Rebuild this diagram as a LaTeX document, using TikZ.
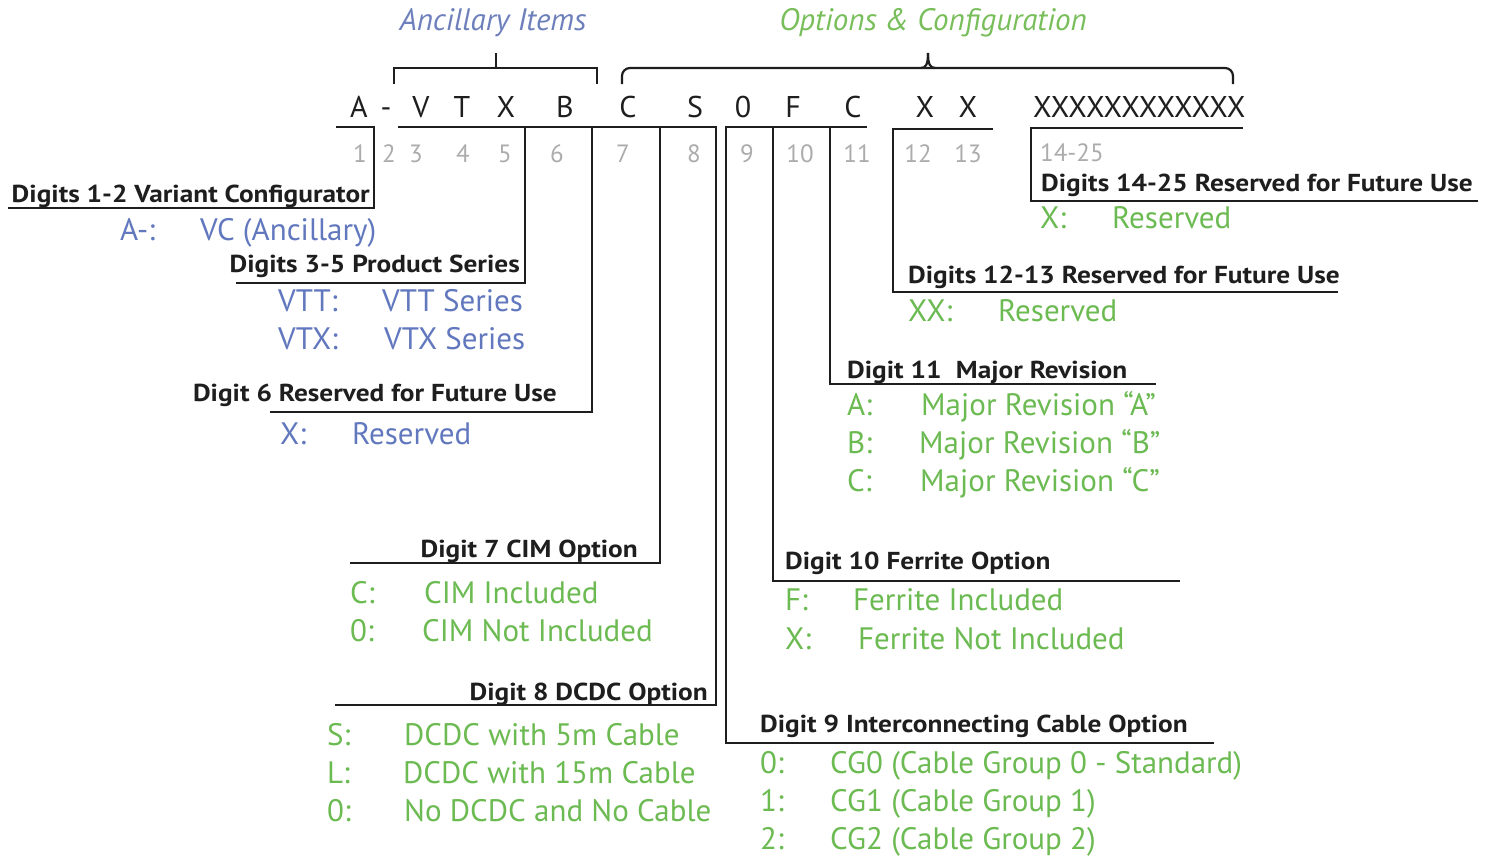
\documentclass[tikz,border=0pt]{standalone}
\usepackage{fontspec}
\setmainfont{PT Sans}
\newfontfamily\hdrfont{PT Sans}[FakeStretch=1.115]
\definecolor{blueT}{RGB}{98,120,190}
\definecolor{greenT}{RGB}{108,186,82}
\definecolor{blueH}{RGB}{110,128,188}
\definecolor{greenH}{RGB}{120,190,90}
\definecolor{grayN}{RGB}{172,172,172}
\definecolor{inkC}{RGB}{30,30,30}
\tikzset{
  lead/.style={line width=2.8pt, draw=inkC, line join=miter},
  brk/.style={line width=2.2pt, draw=inkC},
  code/.style={font=\fontsize{30}{34}\selectfont, anchor=base, inner sep=0pt, text=inkC},
  num/.style={font=\fontsize{25}{28}\selectfont, anchor=base, inner sep=0pt, text=grayN},
  hdr/.style={font=\hdrfont\bfseries\fontsize{24.5}{28}\selectfont, inner sep=0pt, text=inkC},
  ttl/.style={font=\itshape\fontsize{31}{34}\selectfont, anchor=base, inner sep=0pt},
  optb/.style={font=\fontsize{31}{34}\selectfont, anchor=base west, inner sep=0pt, text=blueT},
  optg/.style={font=\fontsize{31}{34}\selectfont, anchor=base west, inner sep=0pt, text=greenT}
}
\begin{document}
\begin{tikzpicture}[x=1pt,y=-1pt]
\useasboundingbox (0,0) rectangle (1493,860);
\fill[white] (0,0) rectangle (1493,860);

% titles
\node[ttl, text=blueH] (tanc) at (493,30) {Ancillary Items};
\node[ttl, text=greenH] (topt) at (933,30) {Options \& Configuration};

% brackets
\draw[brk] (394,84) -- (394,68) -- (597,68) -- (597,84);
\draw[brk] (496,68) -- (496,53);
\draw[brk, rounded corners=8pt] (622,84) -- (622,68) -- (1233,68) -- (1233,84);
\draw[brk] (921,68) .. controls (926,68) and (928,64) .. (928,53);
\draw[brk] (935,68) .. controls (930,68) and (928,64) .. (928,53);

% code characters
\node[code] (c1) at (359,117) {A};
\node[code] (c2) at (386,117) {-};
\node[code] (c3) at (421,117) {V};
\node[code] (c4) at (462,117) {T};
\node[code] (c5) at (506,117) {X};
\node[code] (c6) at (565,117) {B};
\node[code] (c7) at (628,117) {C};
\node[code] (c8) at (695,117) {S};
\node[code] (c9) at (743,117) {0};
\node[code] (c10) at (793,117) {F};
\node[code] (c11) at (853,117) {C};
\node[code] (c12) at (925,117) {X};
\node[code] (c13) at (968,117) {X};
\node[code, anchor=base west] (c14) at (1033,117) {XXXXXXXXXXXX};

% digit numbers
\node[num] (n1) at (360,162) {1};
\node[num] (n2) at (389,162) {2};
\node[num] (n3) at (416,162) {3};
\node[num] (n4) at (463,162) {4};
\node[num] (n5) at (505,162) {5};
\node[num] (n6) at (557,162) {6};
\node[num] (n7) at (623,162) {7};
\node[num] (n8) at (694,162) {8};
\node[num] (n9) at (747,162) {9};
\node[num] (n10) at (800,162) {10};
\node[num] (n11) at (857,162) {11};
\node[num] (n12) at (918,162) {12};
\node[num] (n13) at (968,162) {13};
\node[num, anchor=base west] (n14) at (1040,161) {14-25};

% corner coordinates
\coordinate (t0) at (336,127);
\coordinate (t1) at (374,127);
\coordinate (t2) at (398,127);
\coordinate (t3) at (525,127);
\coordinate (t4) at (592,127);
\coordinate (t5) at (660,127);
\coordinate (t6) at (716,127);
\coordinate (t7) at (726,127);
\coordinate (t8) at (773,127);
\coordinate (t9) at (830,127);
\coordinate (t10) at (867,127);
\coordinate (t11) at (993,129);
\coordinate (t12) at (893,129);
\coordinate (t13) at (1243,128);
\coordinate (t14) at (1031,128);

\coordinate (e1) at (8,208);
\coordinate (e2) at (236,283);
\coordinate (e3) at (270,412);
\coordinate (e4) at (350,563);
\coordinate (e5) at (335,705);
\coordinate (e6) at (1214,743);
\coordinate (e7) at (1180,581);
\coordinate (e8) at (1156,384);
\coordinate (e9) at (1338,292);
\coordinate (e10) at (1478,201);

% leaders
\draw[lead] (t0) -- (t1) |- (e1);
\draw[lead] (t2) -- (t3) |- (e2);
\draw[lead] (t3) -- (t4) |- (e3);
\draw[lead] (t4) -- (t5) |- (e4);
\draw[lead] (t5) -- (t6) |- (e5);
\draw[lead] (t10) -- (t7) |- (e6);
\draw[lead] (t8) |- (e7);
\draw[lead] (t9) |- (e8);
\draw[lead] (t11) -- (t12) |- (e9);
\draw[lead] (t13) -- (t14) |- (e10);

% headers
\node[hdr, anchor=base east] (h1) at (370,202) {Digits 1-2 Variant Configurator};
\node[hdr, anchor=base east] (h2) at (520,272) {Digits 3-5 Product Series};
\node[hdr, anchor=base east] (h3) at (557,401) {Digit 6 Reserved for Future Use};
\node[hdr, anchor=base east] (h4) at (638,557) {Digit 7 CIM Option};
\node[hdr, anchor=base east] (h5) at (708,700) {Digit 8 DCDC Option};
\node[hdr, anchor=base west] (h6) at (760,732) {Digit 9 Interconnecting Cable Option};
\node[hdr, anchor=base west] (h7) at (785,569) {Digit 10 Ferrite Option};
\node[hdr, anchor=base west] (h8) at (847,378) {Digit 11\hspace{0.3em} Major Revision};
\node[hdr, anchor=base west] (h9) at (908,283) {Digits 12-13 Reserved for Future Use};
\node[hdr, anchor=base west] (h10) at (1041,191) {Digits 14-25 Reserved for Future Use};

% options (blue)
\node[optb] (k1) at (120,240) {A-:};
\node[optb] (v1) at (200,240) {VC (Ancillary)};
\node[optb] (k2) at (278,311) {VTT:};
\node[optb] (v2) at (382,311) {VTT Series};
\node[optb] (k3) at (278,349) {VTX:};
\node[optb] (v3) at (384,349) {VTX Series};
\node[optb] (k4) at (280,444) {X:};
\node[optb] (v4) at (352,444) {Reserved};

% options (green)
\node[optg] (k5) at (350,603) {C:};
\node[optg] (v5) at (424,603) {CIM Included};
\node[optg] (k6) at (350,641) {0:};
\node[optg] (v6) at (422,641) {CIM Not Included};

\node[optg] (k7) at (327,745) {S:};
\node[optg] (v7) at (404,745) {DCDC with 5m Cable};
\node[optg] (k8) at (327,783) {L:};
\node[optg] (v8) at (403,783) {DCDC with 15m Cable};
\node[optg] (k9) at (327,821) {0:};
\node[optg] (v9) at (404,821) {No DCDC and No Cable};

\node[optg] (k10) at (760,773) {0:};
\node[optg] (v10) at (830,773) {CG0 (Cable Group 0 - Standard)};
\node[optg] (k11) at (760,811) {1:};
\node[optg] (v11) at (830,811) {CG1 (Cable Group 1)};
\node[optg] (k12) at (760,849) {2:};
\node[optg] (v12) at (830,849) {CG2 (Cable Group 2)};

\node[optg] (k13) at (785,610) {F:};
\node[optg] (v13) at (853,610) {Ferrite Included};
\node[optg] (k14) at (785,649) {X:};
\node[optg] (v14) at (858,649) {Ferrite Not Included};

\node[optg] (k15) at (847,415) {A:};
\node[optg] (v15) at (921,415) {Major Revision “A”};
\node[optg] (k16) at (847,453) {B:};
\node[optg] (v16) at (919,453) {Major Revision “B”};
\node[optg] (k17) at (847,491) {C:};
\node[optg] (v17) at (920,491) {Major Revision “C”};

\node[optg] (k18) at (908,321) {XX:};
\node[optg] (v18) at (998,321) {Reserved};

\node[optg] (k19) at (1040,228) {X:};
\node[optg] (v19) at (1112,228) {Reserved};
\end{tikzpicture}
\end{document}
